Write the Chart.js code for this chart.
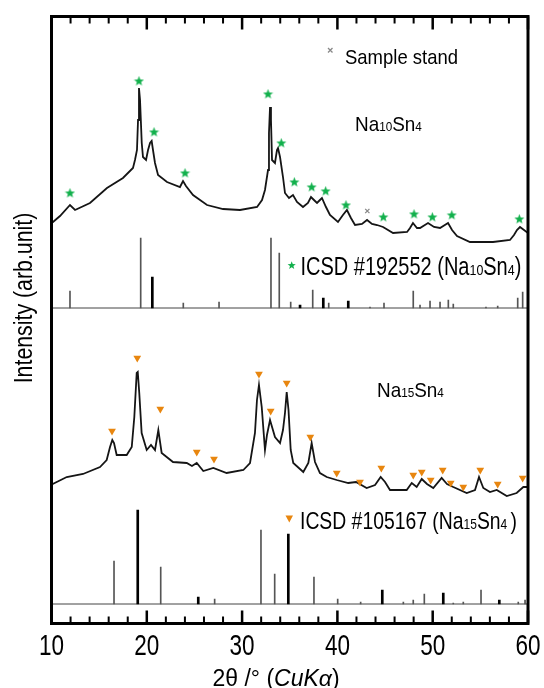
<!DOCTYPE html>
<html>
<head>
<meta charset="utf-8">
<script src="https://cdn.jsdelivr.net/npm/chart.js@4.4.1/dist/chart.umd.min.js"></script>
<style>
  html, body { margin: 0; padding: 0; background: #fff; }
  canvas { display: block; }
</style>
</head>
<body>
<canvas id="xrd" width="544" height="688"></canvas>
<script>
// Measured pattern Na10Sn4 [2theta, intensity]
const na10Curve = [
  [10, 401], [10.16, 402], [10.89, 408], [11.94, 419], [12.47, 414], [14.04, 421],
  [15.82, 436], [17.5, 446], [18.55, 456], [18.76, 464], [18.97, 474], [19.08, 504],
  [19.18, 536], [19.29, 524], [19.47, 481], [19.6, 467], [19.92, 464], [20.13, 474],
  [20.34, 481], [20.51, 483], [20.65, 474], [20.86, 461], [21.18, 449], [22.12, 442],
  [23.48, 437], [23.8, 443], [24.11, 438], [24.85, 429], [26.32, 419], [28.0, 415],
  [29.78, 414], [31.57, 417], [32.09, 424], [32.4, 434], [32.72, 454], [32.82, 491],
  [32.93, 517], [33.03, 504], [33.14, 464], [33.45, 461], [33.66, 474], [33.77, 476],
  [33.98, 467], [34.29, 447], [34.5, 431], [34.92, 426], [35.34, 429], [35.76, 422],
  [36.39, 417], [36.91, 421], [37.23, 427], [37.54, 424], [37.86, 421], [38.17, 424],
  [38.38, 426], [38.8, 417], [39.22, 409], [40.06, 402], [40.58, 409], [41.0, 414],
  [41.42, 406], [41.85, 399], [42.58, 400], [43.11, 404], [43.63, 400], [44.16, 399],
  [44.79, 397], [45.84, 391], [47.31, 392], [47.62, 396], [47.93, 401], [48.35, 396],
  [48.67, 396], [49.51, 401], [50.14, 397], [50.77, 396], [51.61, 401], [52.03, 394],
  [52.55, 388], [53.91, 382], [56.33, 382], [58.11, 384], [58.53, 389], [58.84, 394],
  [59.16, 397], [59.58, 394], [60, 391]
];

// Measured pattern Na15Sn4
const na15Curve = [
  [10, 139], [10.13, 140], [11.6, 147], [13.31, 150], [15.09, 157], [15.79, 164],
  [16.14, 177], [16.38, 184], [16.56, 181], [16.84, 169], [17.29, 169], [17.89, 169],
  [18.42, 177], [18.69, 207], [18.94, 251], [19.05, 252], [19.21, 231], [19.46, 191],
  [19.99, 174], [20.44, 179], [20.86, 174], [21.21, 194], [21.56, 171], [22.75, 162],
  [24.19, 161], [24.74, 158], [25.24, 161], [25.93, 153], [26.98, 156], [28.38, 151],
  [30.13, 154], [30.83, 161], [31.35, 191], [31.56, 224], [31.77, 239], [32.06, 217],
  [32.4, 174], [32.61, 189], [32.93, 204], [33.45, 187], [33.98, 181], [34.29, 194],
  [34.5, 211], [34.68, 232], [34.87, 214], [35.1, 174], [35.37, 161], [36.42, 152],
  [36.95, 161], [37.3, 181], [37.65, 162], [38.17, 151], [38.88, 147], [39.93, 144],
  [41.14, 141], [41.95, 142], [43.07, 136], [43.95, 139], [44.54, 147], [45.0, 142],
  [45.52, 134], [47.27, 134], [47.8, 141], [48.32, 137], [48.85, 145], [49.4, 140],
  [50.06, 136], [50.94, 146], [51.5, 140], [52.16, 137], [53.57, 131], [54.44, 134],
  [54.86, 147], [55.31, 136], [56.01, 132], [56.72, 134], [57.77, 128], [58.81, 131],
  [59.51, 137], [60, 137]
];

// Reference sticks ICSD #192552 (Na10Sn4) [2theta, top]; base line below
const na10Base = 316;
const na10Sticks = [
  [11.94, 333], [19.36, 386], [23.83, 321], [27.58, 322], [33.03, 386], [33.9, 371],
  [35.1, 322], [37.41, 334], [39.09, 321], [43.42, 317], [44.89, 321], [47.96, 333],
  [48.67, 319], [49.72, 323], [50.77, 322], [51.64, 324], [52.16, 320], [55.59, 317],
  [56.82, 318], [58.92, 326], [59.44, 332]
];
const na10SticksBold = [[20.58, 347], [36.08, 319], [38.52, 326], [41.14, 323]];

// Reference sticks ICSD #105167 (Na15Sn4)
const na15Base = 20;
const na15Sticks = [
  [16.56, 63], [21.46, 57], [27.12, 25], [31.98, 94], [33.42, 50], [37.54, 47],
  [40.03, 25], [42.44, 22], [46.92, 22], [47.96, 24], [49.12, 30], [52.16, 21],
  [53.21, 22], [55.07, 34], [58.98, 22], [59.69, 24]
];
const na15SticksBold = [[19.05, 114], [25.4, 27], [34.85, 90], [44.71, 34], [51.11, 31], [56.99, 24]];

// Peak markers
const na10Stars = [
  [11.94, 431], [19.18, 543], [20.76, 492], [24.01, 451], [32.72, 530], [34.11, 481],
  [35.48, 442], [37.3, 437], [38.77, 433], [40.9, 419], [44.82, 407], [48.04, 410],
  [49.96, 407], [52.0, 409], [59.09, 405]
];
const standMarks = [[43.14, 413]];
const na15Triangles = [
  [16.35, 193], [19.0, 266], [21.42, 215], [25.24, 172], [27.05, 165], [31.77, 250],
  [33.0, 213], [34.68, 241], [37.16, 187], [39.93, 151], [42.37, 142], [44.61, 156],
  [47.96, 149], [48.85, 152], [49.79, 144], [51.05, 154], [51.89, 141], [53.21, 137],
  [54.99, 154], [56.82, 140], [59.44, 146]
];

const xMajor = [10, 20, 30, 40, 50, 60];
const xMinor = [12, 14, 16, 18, 22, 24, 26, 28, 32, 34, 36, 38, 42, 44, 46, 48, 52, 54, 56, 58];

const FONT = '"Liberation Sans", Arial, sans-serif';
const GREEN = '#12b04c';
const ORANGE = '#e8860f';

const toXY = arr => arr.map(p => ({ x: p[0], y: p[1] }));
const toBars = (arr, base) => arr.map(p => ({ x: p[0], y: [base, p[1]] }));

// Stern fuer die Punkte
const starPath = (c, cx, cy, r) => {
  c.beginPath();
  for (let i = 0; i < 10; i++) {
    const rr = i % 2 ? r * 0.42 : r;
    const a = -Math.PI / 2 + i * Math.PI / 5;
    c.lineTo(cx + rr * Math.cos(a), cy + rr * Math.sin(a));
  }
  c.closePath();
};
const starImg = document.createElement('canvas');
starImg.width = 11; starImg.height = 11;
{
  const c = starImg.getContext('2d');
  c.fillStyle = GREEN;
  starPath(c, 5.5, 5.8, 5.3);
  c.fill();
}

// Text mit Indizes, horizontal gestaucht
const drawRich = (ctx, parts, x, y, size, sx, align) => {
  ctx.save();
  let w = 0;
  parts.forEach(p => {
    ctx.font = (p[2] || '') + ' ' + (p[1] ? size * 0.62 : size) + 'px ' + FONT;
    w += ctx.measureText(p[0]).width;
  });
  ctx.translate(x, y);
  ctx.scale(sx, 1);
  let cx = align === 'center' ? -w / 2 : 0;
  ctx.fillStyle = '#000';
  ctx.textBaseline = 'alphabetic';
  ctx.textAlign = 'left';
  parts.forEach(p => {
    ctx.font = (p[2] || '') + ' ' + (p[1] ? size * 0.62 : size) + 'px ' + FONT;
    ctx.fillText(p[0], cx, 0);
    cx += ctx.measureText(p[0]).width;
  });
  ctx.restore();
};

const framePlugin = {
  id: 'frame',
  afterDraw(chart) {
    const { ctx, chartArea: a, scales: { x } } = chart;
    ctx.save();
    ctx.strokeStyle = '#000';
    ctx.lineWidth = 3;
    ctx.strokeRect(a.left, a.top, a.right - a.left, a.bottom - a.top);

    // Ticks nach innen, oben und unten
    const tick = (v, len, lw) => {
      const px = x.getPixelForValue(v);
      ctx.lineWidth = lw;
      ctx.beginPath();
      ctx.moveTo(px, a.top); ctx.lineTo(px, a.top + len);
      ctx.moveTo(px, a.bottom); ctx.lineTo(px, a.bottom - len);
      ctx.stroke();
    };
    xMinor.forEach(v => tick(v, 7, 2));
    xMajor.forEach(v => tick(v, 13, 2.5));

    xMajor.forEach(v => drawRich(ctx, [[String(v)]], x.getPixelForValue(v), 655, 30, 0.75, 'center'));

    // Achsentitel
    drawRich(ctx, [['2θ /° ('], ['CuKα', false, 'italic'], [')']], 276, 686, 23, 1, 'center');
    ctx.save();
    ctx.translate(32, 298);
    ctx.rotate(-Math.PI / 2);
    drawRich(ctx, [['Intensity (arb.unit)']], 0, 0, 26, 0.82, 'center');
    ctx.restore();

    // Beschriftungen
    drawRich(ctx, [['Sample stand']], 345, 63.5, 21, 0.88);
    drawRich(ctx, [['Na'], ['10', true], ['Sn'], ['4', true]], 355, 131, 21, 0.9);
    drawRich(ctx, [['ICSD #192552 (Na'], ['10', true], ['Sn'], ['4', true], [')']], 300.5, 275, 25, 0.8);
    drawRich(ctx, [['Na'], ['15', true], ['Sn'], ['4', true]], 377, 397, 21, 0.9);
    drawRich(ctx, [['ICSD #105167 (Na'], ['15', true], ['Sn'], ['4 ', true], [')']], 300, 529, 24.5, 0.79);

    // Legendensymbole
    ctx.strokeStyle = '#888';
    ctx.lineWidth = 1.3;
    ctx.beginPath();
    ctx.moveTo(328, 48); ctx.lineTo(332.5, 52.5);
    ctx.moveTo(332.5, 48); ctx.lineTo(328, 52.5);
    ctx.stroke();
    ctx.fillStyle = GREEN;
    starPath(ctx, 291.7, 265.5, 4.3);
    ctx.fill();
    ctx.fillStyle = ORANGE;
    ctx.beginPath();
    ctx.moveTo(285.5, 515.5); ctx.lineTo(293, 515.5); ctx.lineTo(289.3, 522.5);
    ctx.closePath();
    ctx.fill();
    ctx.restore();
  }
};

const stickSet = (arr, base, bold) => ({
  type: 'bar',
  data: toBars(arr, base),
  backgroundColor: bold ? '#000' : '#555',
  borderWidth: 0,
  barThickness: bold ? 2 : 1,
  grouped: false,
  order: 5
});
const baseLine = v => ({
  type: 'line',
  data: [{ x: 10, y: v }, { x: 60, y: v }],
  borderColor: '#444',
  borderWidth: 1,
  pointRadius: 0,
  order: 6
});

new Chart('xrd', {
  type: 'line',
  data: {
    datasets: [
      {
        data: toXY(na10Curve),
        borderColor: '#151515',
        borderWidth: 1.8,
        pointRadius: 0,
        order: 3
      },
      {
        data: toXY(na15Curve),
        borderColor: '#151515',
        borderWidth: 1.8,
        pointRadius: 0,
        order: 3
      },
      stickSet(na10Sticks, na10Base, false),
      stickSet(na10SticksBold, na10Base, true),
      stickSet(na15Sticks, na15Base, false),
      stickSet(na15SticksBold, na15Base, true),
      baseLine(na10Base),
      baseLine(na15Base),
      {
        type: 'scatter',
        data: toXY(na10Stars),
        pointStyle: starImg,
        order: 1
      },
      {
        type: 'scatter',
        data: toXY(standMarks),
        pointStyle: 'crossRot',
        pointRadius: 3,
        borderColor: '#888',
        borderWidth: 1.3,
        order: 1
      },
      {
        type: 'scatter',
        data: toXY(na15Triangles),
        pointStyle: 'triangle',
        rotation: 180,
        pointRadius: 4.5,
        backgroundColor: ORANGE,
        borderColor: ORANGE,
        borderWidth: 0,
        order: 1
      }
    ]
  },
  options: {
    responsive: false,
    animation: false,
    layout: { padding: { left: 51.5, top: 16.5, right: 16, bottom: 64.5 } },
    scales: {
      x: { type: 'linear', min: 10, max: 60, display: false, offset: false },
      y: { type: 'linear', min: 0.5, max: 607.5, display: false }
    },
    plugins: {
      legend: { display: false },
      tooltip: { enabled: false }
    }
  },
  plugins: [framePlugin]
});
</script>
</body>
</html>
